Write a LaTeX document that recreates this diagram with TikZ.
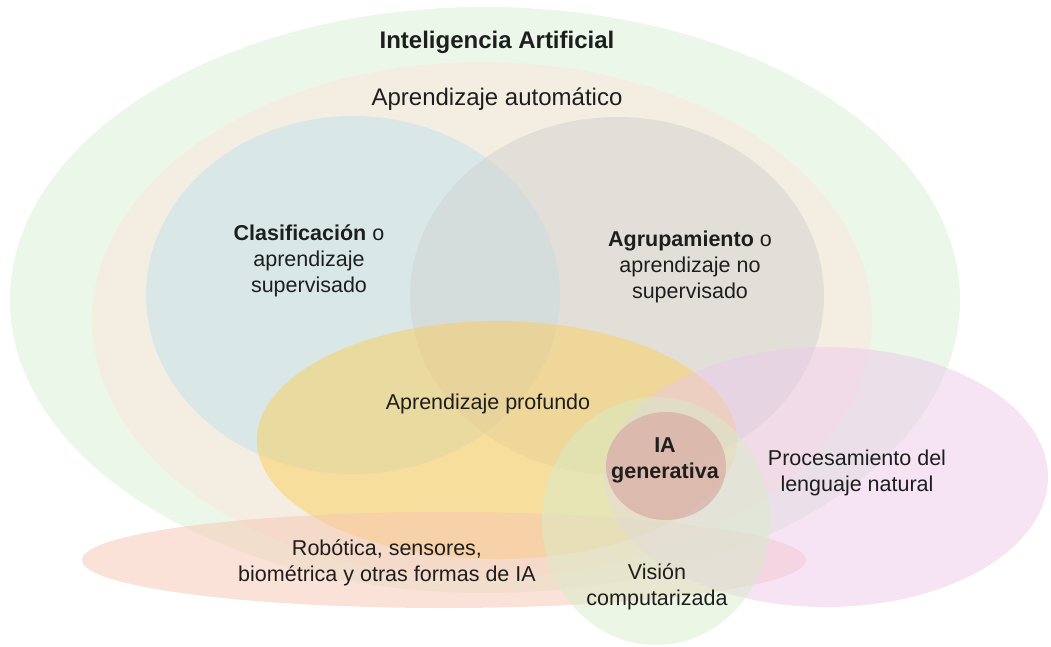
\documentclass[tikz,border=0pt]{standalone}
\usepackage{fontspec}
\setmainfont{Liberation Sans}

\definecolor{iagreen}{RGB}{215,239,209}
\definecolor{mlbeige}{RGB}{255,229,220}
\definecolor{clsblue}{RGB}{191,226,238}
\definecolor{grpgray}{RGB}{209,210,210}
\definecolor{dlorange}{RGB}{251,206,90}
\definecolor{robred}{RGB}{247,197,177}
\definecolor{nlppink}{RGB}{237,201,235}
\definecolor{cvgreen}{RGB}{215,237,201}
\definecolor{genred}{RGB}{214,150,150}
\definecolor{txt}{RGB}{30,30,30}

\begin{document}
\begin{tikzpicture}[x=1pt,y=-1pt,
    set/.style={fill opacity=0.5},
    lbl/.style={align=center,text=txt,font=\fontsize{21.5}{26}\selectfont},
    toplbl/.style={align=center,text=txt,font=\fontsize{24}{28}\selectfont}]
    \useasboundingbox (0,0) rectangle (1051,646);
    \fill[set,iagreen] (485,300) ellipse [x radius=475pt,y radius=293pt]; % inteligencia artificial
    \fill[set,mlbeige] (482,320) ellipse [x radius=390pt,y radius=258pt]; % aprendizaje automatico
    \fill[set,clsblue] (353,295) ellipse [x radius=207pt,y radius=179pt]; % supervisado
    \fill[set,grpgray] (617,296) ellipse [x radius=207pt,y radius=179pt]; % no supervisado
    \fill[set,dlorange] (497,440) ellipse [x radius=240pt,y radius=119pt]; % profundo
    \fill[set,robred] (444,560) ellipse [x radius=362pt,y radius=48pt]; % robotica
    \fill[set,nlppink] (826,477) ellipse [x radius=222pt,y radius=130pt]; % lenguaje natural
    \fill[set,cvgreen] (656,521) ellipse [x radius=114pt,y radius=124pt]; % vision
    \fill[set,genred] (666,466) ellipse [x radius=60pt,y radius=54pt]; % IA generativa
    \node[toplbl] (ia) at (497,42) {\textbf{Inteligencia Artificial}};
    \node[toplbl] (ml) at (497,99) {Aprendizaje automático};
    \node[lbl] (cls) at (309,261) {\textbf{Clasificación} o\\aprendizaje\\supervisado};
    \node[lbl] (grp) at (690,267) {\textbf{Agrupamiento} o\\aprendizaje no\\supervisado};
    \node[lbl] (dl) at (488,404) {Aprendizaje profundo};
    \node[lbl] (gen) at (665,460) {\textbf{IA}\\\textbf{generativa}};
    \node[lbl] (nlp) at (857,473) {Procesamiento del\\lenguaje natural};
    \node[lbl] (rob) at (387,563) {Robótica, sensores,\\biométrica y otras formas de IA};
    \node[lbl] (cv) at (657,587) {Visión\\computarizada};
\end{tikzpicture}
\end{document}
